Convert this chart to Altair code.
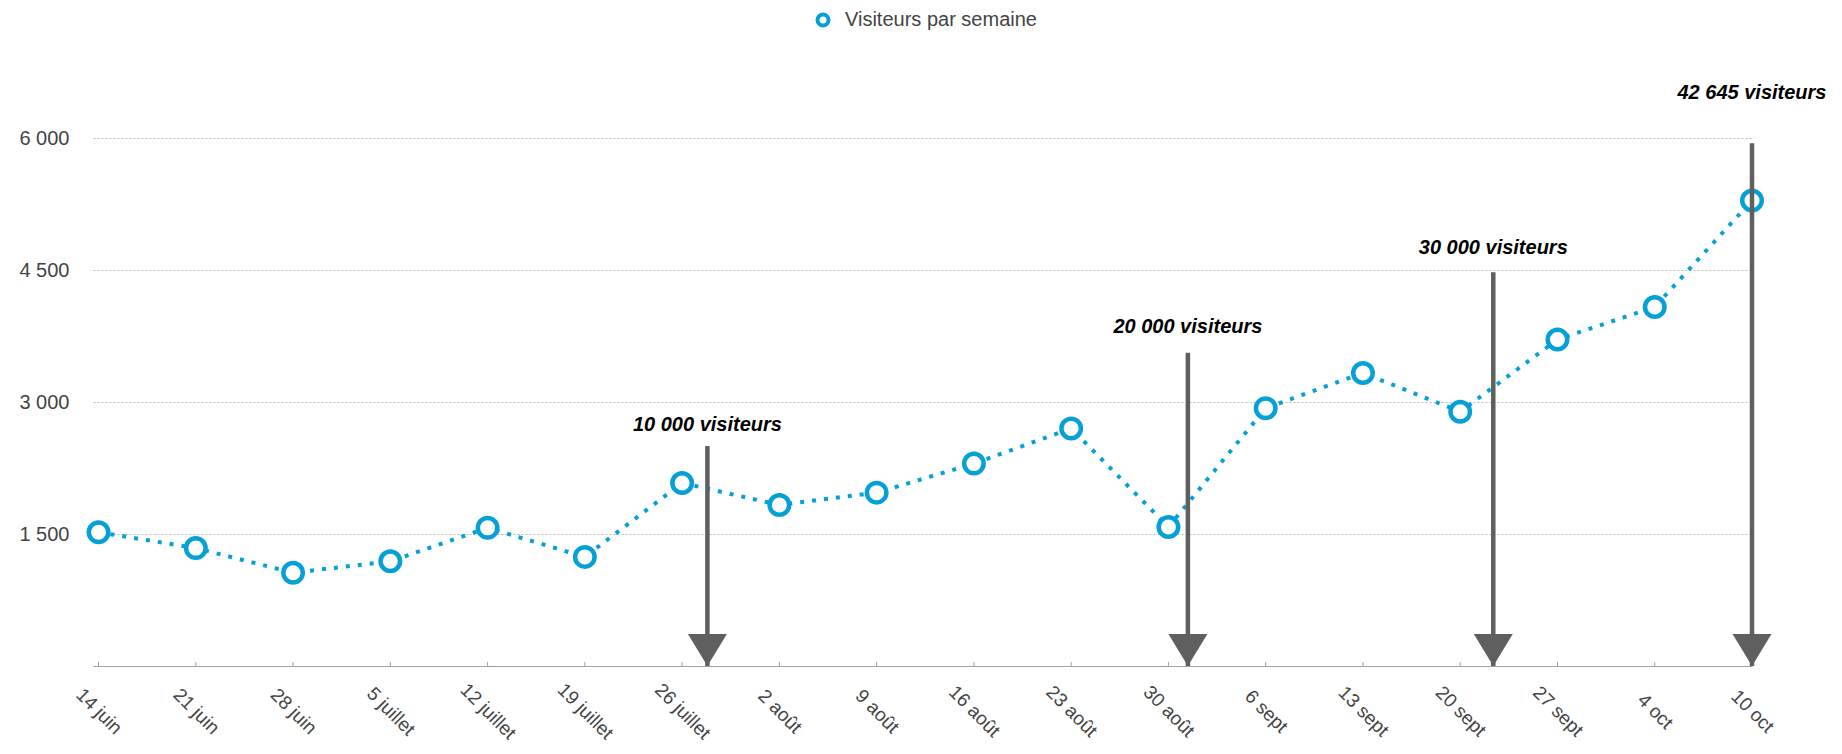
import json
import altair as alt
import pandas as pd

# ---- data ----
semaines = ["14 juin", "21 juin", "28 juin", "5 juillet", "12 juillet", "19 juillet",
            "26 juillet", "2 août", "9 août", "16 août", "23 août", "30 août",
            "6 sept", "13 sept", "20 sept", "27 sept", "4 oct", "10 oct"]
visiteurs = [1520, 1340, 1060, 1190, 1570, 1240, 2080, 1830, 1970, 2300, 2700, 1580,
             2930, 3330, 2890, 3710, 4080, 5290]
serie = "Visiteurs par semaine"

jalons = ["10 000 visiteurs", "20 000 visiteurs", "30 000 visiteurs", "42 645 visiteurs"]
jalon_pos = [6.26, 11.2, 14.34, 17.0]
jalon_haut = [2500, 3560, 4475, 5940]
jalon_texte_y = [2674, 3788, 4682, 6440]

y_ticks = [0, 1500, 3000, 4500, 6000]

BLUE = "#06a0d8"
GRAY = "#5f5f5f"
FONT = "Liberation Sans"

df = pd.DataFrame({
    "i": list(range(len(semaines))),
    "semaine": semaines,
    "visiteurs": visiteurs,
    "serie": [serie] * len(semaines),
})
dj = pd.DataFrame({
    "x": jalon_pos,
    "haut": jalon_haut,
    "ty": jalon_texte_y,
    "label": jalons,
    "zero": [0] * len(jalons),
})

xscale = alt.Scale(domain=[-0.057, 17.0], nice=False, zero=False)
yscale = alt.Scale(domain=[0, 6000], nice=False)

xaxis = alt.Axis(
    values=list(range(len(semaines))),
    labelExpr=json.dumps(semaines, ensure_ascii=False) + "[datum.value]",
    labelAngle=45, labelAlign="center", labelBaseline="middle",
    labelPadding=45, ticks=False, tickSize=0, grid=False,
    labelFlush=False, labelOverlap=False,
    domainColor="#a0a0a0", domainWidth=1,
    labelFont=FONT, labelFontSize=19, labelColor="#444444", title=None,
)
yaxis = alt.Axis(
    values=y_ticks,
    labelExpr="datum.value == 0 ? '' : replace(format(datum.value, ','), ',', ' ')",
    grid=True, gridDash=[2, 2], gridColor="#b8b8b8", gridWidth=1,
    domain=False, ticks=False, tickSize=0, labelPadding=24,
    labelFont=FONT, labelFontSize=20, labelColor="#444444", title=None,
)

def X(field):
    return alt.X(field, scale=xscale, axis=xaxis)

def Y(field):
    return alt.Y(field, scale=yscale, axis=yaxis)

base = alt.Chart(df)

line = base.mark_line(color=BLUE, strokeWidth=4, strokeDash=[4, 8]).encode(
    x=X("i:Q"), y=Y("visiteurs:Q")
)

ticks = base.mark_rule(color="#a0a0a0", strokeWidth=1).encode(
    x=X("i:Q"), y=alt.value(528), y2=alt.value(524)
)

points = base.mark_point(shape="circle", size=380, strokeWidth=4.5, fill="white",
                         fillOpacity=1, opacity=1).encode(
    x=X("i:Q"), y=Y("visiteurs:Q"),
    stroke=alt.Stroke("serie:N", scale=alt.Scale(range=[BLUE]),
                      legend=alt.Legend(title=None, orient="none", legendX=720, legendY=-128,
                                        labelFont=FONT, labelFontSize=20, labelColor="#444444",
                                        labelLimit=0,
                                        symbolType="circle", symbolSize=121, symbolStrokeWidth=4,
                                        symbolFillColor="white", labelOffset=12, padding=0)),
)

bj = alt.Chart(dj)
rules = bj.mark_rule(color=GRAY, strokeWidth=4.5).encode(
    x=X("x:Q"), y=Y("zero:Q"), y2="haut:Q"
)
heads = bj.mark_point(shape="M-1,-1.64L1,-1.64L0,0Z", size=1521, filled=True,
                      color=GRAY, opacity=1, strokeWidth=0).encode(
    x=X("x:Q"), y=Y("zero:Q")
)
texts = bj.mark_text(font=FONT, fontSize=20, fontWeight="bold", fontStyle="italic",
                     color="#000000", align="center", baseline="alphabetic").encode(
    x=X("x:Q"), y=Y("ty:Q"), text="label:N"
)

chart = alt.layer(line, ticks, points, rules, heads, texts).properties(
    width=1659, height=528,
    padding={"left": 85, "top": 130, "right": 80, "bottom": 78},
    autosize=alt.AutoSizeParams(type="none"),
).configure_view(stroke=None)

chart.save("out.html", embed_options={"renderer": "svg", "actions": False})
